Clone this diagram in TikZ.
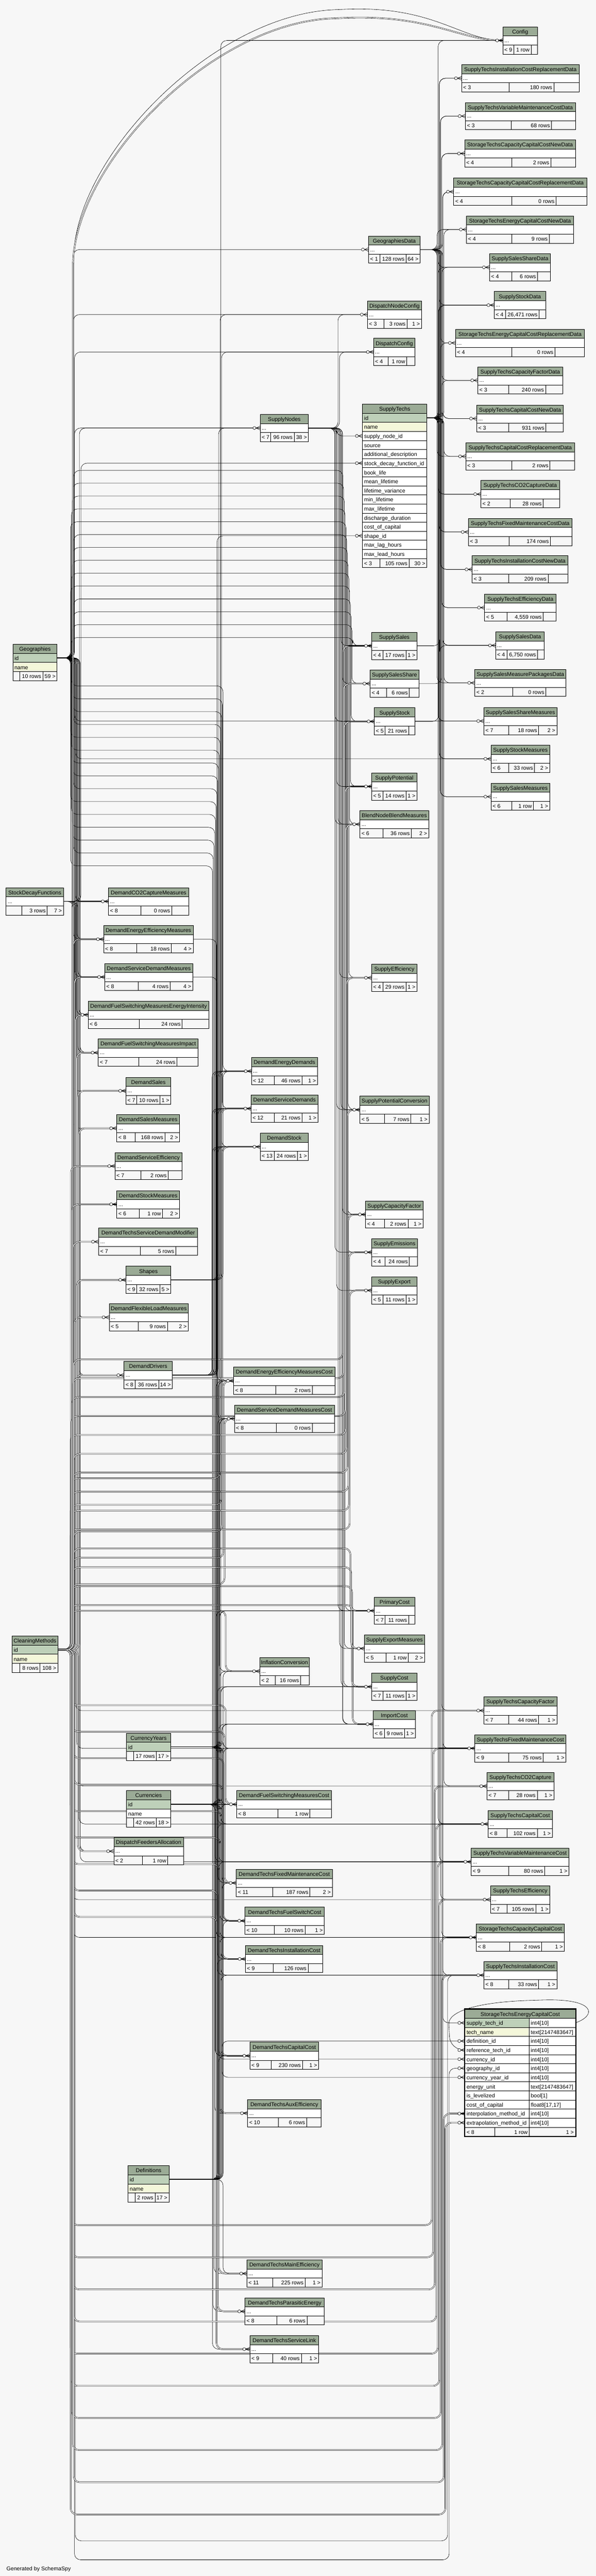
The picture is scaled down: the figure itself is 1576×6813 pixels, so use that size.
\documentclass[tikz,border=0pt]{standalone}
\usepackage{fontspec}
\setmainfont{Liberation Sans}
\usetikzlibrary{calc}
\definecolor{bgc}{HTML}{F7F7F7}
\definecolor{hdrc}{HTML}{9BAB96}
\definecolor{pkc}{HTML}{BED0B9}
\definecolor{namec}{HTML}{F4F7DA}
\pgfdeclarelayer{bgl}
\pgfdeclarelayer{edges}
\pgfsetlayers{bgl,edges,main}
\tikzset{
	tbl/.style={draw=black, line width=1pt},
	ttl/.style={inner sep=0pt, anchor=base},
	txt/.style={inner sep=0pt, anchor=base west},
	txr/.style={inner sep=0pt, anchor=base east},
	fk/.style={draw=black, line width=0.8pt, rounded corners=16pt},
	fkk/.style={fk, double=bgc, double distance=2pt},
	crow/.pic={
		\draw[line width=0.8pt, fill=bgc] (-15,0) circle[radius=4];
		\draw[line width=0.8pt] (-11,0) -- (0,-5) (-11,0) -- (0,0) (-11,0) -- (0,5);}
}

\begin{document}
\begin{tikzpicture}[x=1pt, y=-1pt, font=\fontsize{14.5}{17}\selectfont]
	\useasboundingbox (0,0) rectangle (1576,6813);
	\begin{pgfonlayer}{bgl}
		\fill[bgc] (0,0) rectangle (1576,6813);
	\end{pgfonlayer}

% TABLES (compact)
	\foreach \nm/\xa/\ya/\xb/\da/\db/\fa/\fb/\fc in {
		Config/1330/71/1422/1359/1405/{< 9}/{1 row}/{},
		SupplyTechsInstallationCostReplacementData/1221/171/1532/1347/1465/{< 3}/{180 rows}/{},
		SupplyTechsVariableMaintenanceCostData/1231/271/1522/1352/1459/{< 3}/{68 rows}/{},
		StorageTechsCapacityCapitalCostNewData/1229/370/1522/1354/1457/{< 4}/{2 rows}/{},
		StorageTechsCapacityCapitalCostReplacementData/1200/471/1552/1354/1471/{< 4}/{0 rows}/{},
		StorageTechsEnergyCapitalCostNewData/1234/571/1517/1354/1453/{< 4}/{9 rows}/{},
		GeographiesData/975/624/1111/1005/1074/{< 1}/{128 rows}/{64 >},
		SupplySalesShareData/1295/671/1456/1354/1422/{< 4}/{6 rows}/{},
		SupplyStockData/1307/771/1443/1337/1426/{< 4}/{26,471 rows}/{},
		DispatchNodeConfig/972/796/1115/1016/1077/{< 3}/{3 rows}/{1 >},
		StorageTechsEnergyCapitalCostReplacementData/1205/871/1546/1354/1468/{< 4}/{0 rows}/{},
		DispatchConfig/988/895/1098/1026/1076/{< 4}/{1 row}/{},
		SupplyTechsCapacityFactorData/1264/970/1488/1346/1443/{< 3}/{240 rows}/{},
		SupplyTechsCapitalCostNewData/1261/1071/1490/1346/1444/{< 3}/{931 rows}/{},
		SupplyNodes/688/1096/816/716/778/{< 7}/{96 rows}/{38 >},
		SupplyTechsCapitalCostReplacementData/1232/1171/1520/1354/1455/{< 3}/{2 rows}/{},
		SupplyTechsCO2CaptureData/1272/1271/1480/1350/1437/{< 2}/{28 rows}/{},
		SupplyTechsFixedMaintenanceCostData/1239/1371/1513/1347/1456/{< 3}/{174 rows}/{},
		SupplyTechsInstallationCostNewData/1249/1470/1502/1346/1450/{< 3}/{209 rows}/{},
		SupplyTechsEfficiencyData/1282/1571/1471/1341/1437/{< 5}/{4,559 rows}/{},
		SupplySales/983/1672/1103/1013/1074/{< 4}/{17 rows}/{1 >},
		SupplySalesData/1311/1671/1440/1341/1422/{< 4}/{6,750 rows}/{},
		SupplySalesMeasurePackagesData/1256/1770/1497/1356/1444/{< 2}/{0 rows}/{},
		SupplySalesShare/979/1772/1108/1023/1083/{< 4}/{6 rows}/{},
		SupplySalesShareMeasures/1280/1871/1473/1345/1425/{< 7}/{18 rows}/{2 >},
		SupplyStock/990/1872/1098/1019/1081/{< 5}/{21 rows}/{},
		SupplyStockMeasures/1299/1971/1454/1345/1414/{< 6}/{33 rows}/{2 >},
		SupplyPotential/983/2044/1103/1013/1074/{< 5}/{14 rows}/{1 >},
		SupplySalesMeasures/1299/2071/1454/1353/1411/{< 6}/{1 row}/{1 >},
		BlendNodeBlendMeasures/952/2144/1134/1013/1088/{< 6}/{36 rows}/{2 >},
		StockDecayFunctions/16/2348/168/58/125/{}/{3 rows}/{7 >},
		DemandCO2CaptureMeasures/287/2348/499/372/454/{< 8}/{0 rows}/{},
		DemandEnergyEfficiencyMeasures/274/2448/511/362/453/{< 8}/{18 rows}/{4 >},
		DemandServiceDemandMeasures/277/2548/510/366/450/{< 8}/{4 rows}/{4 >},
		SupplyEfficiency/983/2550/1103/1013/1074/{< 4}/{29 rows}/{1 >},
		DemandFuelSwitchingMeasuresEnergyIntensity/233/2648/553/368/482/{< 6}/{24 rows}/{},
		DemandFuelSwitchingMeasuresImpact/260/2748/524/367/468/{< 7}/{24 rows}/{},
		DemandEnergyDemands/665/2797/840/725/799/{< 12}/{46 rows}/{1 >},
		DemandSales/333/2849/452/362/423/{< 7}/{10 rows}/{1 >},
		DemandServiceDemands/664/2896/841/725/799/{< 12}/{21 rows}/{1 >},
		SupplyPotentialConversion/952/2899/1135/1017/1087/{< 5}/{7 rows}/{1 >},
		DemandSalesMeasures/309/2948/475/358/436/{< 8}/{168 rows}/{2 >},
		DemandStock/688/2997/816/725/787/{< 13}/{24 rows}/{1 >},
		DemandServiceEfficiency/304/3048/482/372/445/{< 7}/{2 rows}/{},
		DemandStockMeasures/309/3149/475/369/430/{< 6}/{1 row}/{2 >},
		SupplyCapacityFactor/967/3176/1119/1017/1079/{< 4}/{2 rows}/{1 >},
		DemandTechsServiceDemandModifier/261/3248/523/371/465/{< 7}/{5 rows}/{},
		SupplyEmissions/983/3276/1104/1019/1083/{< 4}/{24 rows}/{},
		Shapes/333/3349/452/362/423/{< 9}/{32 rows}/{5 >},
		SupplyExport/983/3377/1103/1013/1074/{< 5}/{11 rows}/{1 >},
		DemandFlexibleLoadMeasures/289/3448/498/365/443/{< 5}/{9 rows}/{2 >},
		DemandDrivers/328/3601/456/358/420/{< 8}/{36 rows}/{14 >},
		DemandEnergyEfficiencyMeasuresCost/618/3616/886/730/826/{< 8}/{2 rows}/{},
		DemandServiceDemandMeasuresCost/620/3716/885/731/826/{< 8}/{0 rows}/{},
		PrimaryCost/990/4224/1098/1019/1081/{< 7}/{11 rows}/{},
		SupplyExportMeasures/964/4324/1123/1021/1080/{< 5}/{1 row}/{2 >},
		InflationConversion/687/4384/818/728/795/{< 2}/{16 rows}/{},
		SupplyCost/983/4425/1103/1013/1074/{< 7}/{11 rows}/{1 >},
		SupplyTechsCapacityFactor/1280/4488/1473/1345/1425/{< 7}/{44 rows}/{1 >},
		ImportCost/987/4524/1099/1017/1070/{< 6}/{9 rows}/{1 >},
		SupplyTechsFixedMaintenanceCost/1256/4588/1497/1345/1437/{< 9}/{75 rows}/{1 >},
		SupplyTechsCO2Capture/1288/4688/1465/1345/1421/{< 7}/{28 rows}/{1 >},
		DemandFuelSwitchingMeasuresCost/626/4736/877/735/820/{< 8}/{1 row}/{},
		SupplyTechsCapitalCost/1291/4788/1461/1341/1421/{< 8}/{102 rows}/{1 >},
		DispatchFeedersAllocation/301/4860/485/376/444/{< 2}/{1 row}/{},
		SupplyTechsVariableMaintenanceCost/1246/4888/1505/1345/1441/{< 9}/{80 rows}/{1 >},
		DemandTechsFixedMaintenanceCost/625/4944/879/721/820/{< 11}/{187 rows}/{2 >},
		SupplyTechsEfficiency/1297/4988/1455/1341/1417/{< 7}/{105 rows}/{1 >},
		DemandTechsFuelSwitchCost/648/5044/858/725/807/{< 10}/{10 rows}/{1 >},
		StorageTechsCapacityCapitalCost/1260/5088/1493/1348/1433/{< 8}/{2 rows}/{1 >},
		DemandTechsInstallationCost/649/5145/854/722/815/{< 9}/{126 rows}/{},
		SupplyTechsInstallationCost/1280/5188/1473/1345/1425/{< 8}/{33 rows}/{1 >},
		DemandTechsCapitalCost/661/5401/843/717/800/{< 9}/{230 rows}/{1 >},
		DemandTechsAuxEfficiency/655/5553/849/736/811/{< 10}/{6 rows}/{},
		DemandTechsMainEfficiency/653/5977/852/721/807/{< 11}/{225 rows}/{1 >},
		DemandTechsParasiticEnergy/648/6077/858/732/812/{< 8}/{6 rows}/{},
		DemandTechsServiceLink/661/6177/843/721/797/{< 9}/{40 rows}/{1 >}}{
		\coordinate (\nm-in) at (\xa,\ya+36);
		\coordinate (\nm-out) at (\xb,\ya+36);
		\draw[tbl, fill=hdrc] (\xa,\ya) rectangle (\xb,\ya+24);
		\draw[tbl, fill=white] (\xa,\ya+24) rectangle (\xb,\ya+48);
		\draw[tbl, fill=bgc] (\xa,\ya+48) rectangle (\xb,\ya+72);
		\draw[tbl] (\da,\ya+48) -- (\da,\ya+72) (\db,\ya+48) -- (\db,\ya+72);
		\node[ttl] (\nm) at ({(\xa+\xb)/2},\ya+18) {\nm};
		\node[txt] (\nm-dots) at (\xa+4,\ya+41) {...};
		\node[txt] (\nm-fa) at (\xa+4,\ya+66) {\fa};
		\node[txr] (\nm-fb) at (\db-4,\ya+66) {\fb};
		\node[txr] (\nm-fc) at (\xb-4,\ya+66) {\fc};
		\ifx\fa\empty\else \pic at (\nm-in) {crow};\fi
	}

% TABLES (lookup)
	\foreach \nm/\xa/\ya/\xb/\da/\db/\fb/\fc/\nc in {
		Geographies/34/1704/151/52/113/{10 rows}/{59 >}/namec,
		CleaningMethods/32/4327/153/52/106/{8 rows}/{108 >}/namec,
		Currencies/335/4736/451/353/414/{42 rows}/{18 >}/white,
		Definitions/339/5728/447/357/410/{2 rows}/{17 >}/namec}{
		\coordinate (\nm-out) at (\xb,\ya+36);
		\draw[tbl, fill=hdrc] (\xa,\ya) rectangle (\xb,\ya+24);
		\draw[tbl, fill=pkc] (\xa,\ya+24) rectangle (\xb,\ya+48);
		\draw[tbl, fill=\nc] (\xa,\ya+48) rectangle (\xb,\ya+72);
		\draw[tbl, fill=bgc] (\xa,\ya+72) rectangle (\xb,\ya+96);
		\draw[tbl] (\da,\ya+72) -- (\da,\ya+96) (\db,\ya+72) -- (\db,\ya+96);
		\node[ttl] (\nm) at ({(\xa+\xb)/2},\ya+18) {\nm};
		\node[txt] (\nm-id) at (\xa+4,\ya+42) {id};
		\node[txt] (\nm-name) at (\xa+4,\ya+66) {name};
		\node[txr] (\nm-fb) at (\db-4,\ya+90) {\fb};
		\node[txr] (\nm-fc) at (\xb-4,\ya+90) {\fc};
	}

	% currency years
	\coordinate (CurrencyYears-out) at (451,4620);
	\draw[tbl, fill=hdrc] (335,4584) rectangle (451,4608);
	\draw[tbl, fill=pkc] (335,4608) rectangle (451,4632);
	\draw[tbl, fill=bgc] (335,4632) rectangle (451,4656);
	\draw[tbl] (353,4632) -- (353,4656) (414,4632) -- (414,4656);
	\node[ttl] (CurrencyYears) at (393,4602) {CurrencyYears};
	\node[txt] (CurrencyYears-id) at (339,4626) {id};
	\node[txr] (CurrencyYears-fb) at (410,4650) {17 rows};
	\node[txr] (CurrencyYears-fc) at (447,4650) {17 >};

% SUPPLY TECHS
	\draw[tbl, fill=hdrc] (959,1069) rectangle (1129,1093);
	\node[ttl] (SupplyTechs) at (1044,1087) {SupplyTechs};
	\draw[tbl, fill=pkc] (959,1093) rectangle (1129,1117);
	\node[txt] (sut-id) at (963,1111) {id};
	\draw[tbl, fill=namec] (959,1117) rectangle (1129,1141);
	\node[txt] (sut-name) at (963,1135) {name};
	\foreach \col [count=\r from 3] in {supply\_node\_id, source, additional\_description,
		stock\_decay\_function\_id, book\_life, mean\_lifetime, lifetime\_variance, min\_lifetime,
		max\_lifetime, discharge\_duration, cost\_of\_capital, shape\_id, max\_lag\_hours, max\_lead\_hours}{
		\draw[tbl, fill=white] (959,1069+24*\r) rectangle (1129,1093+24*\r);
		\node[txt] (sut-\r) at (963,1087+24*\r) {\col};
	}
	\draw[tbl, fill=bgc] (959,1477) rectangle (1129,1501);
	\draw[tbl] (1005,1477) -- (1005,1501) (1082,1477) -- (1082,1501);
	\node[txt] (sut-fa) at (963,1495) {< 3};
	\node[txr] (sut-fb) at (1078,1495) {105 rows};
	\node[txr] (sut-fc) at (1125,1495) {30 >};
	\coordinate (SupplyTechs-out) at (1129,1105);
	\coordinate (sut-node) at (959,1153);
	\coordinate (sut-decay) at (959,1225);
	\coordinate (sut-shape) at (959,1417);
	\foreach \c in {sut-node, sut-decay, sut-shape} \pic at (\c) {crow};

% STORAGE TECHS ENERGY CAPITAL COST
	\draw[tbl, fill=hdrc] (1230,5314) rectangle (1522,5338);
	\node[ttl] (StorageTechsEnergyCapitalCost) at (1376,5332) {StorageTechsEnergyCapitalCost};
	\foreach \col/\typ/\cf [count=\r] in {supply\_tech\_id/{int4[10]}/pkc, tech\_name/{text[2147483647]}/namec,
		definition\_id/{int4[10]}/white, reference\_tech\_id/{int4[10]}/white, currency\_id/{int4[10]}/white,
		geography\_id/{int4[10]}/white, currency\_year\_id/{int4[10]}/white, energy\_unit/{text[2147483647]}/white,
		is\_levelized/{bool[1]}/white, cost\_of\_capital/{float8[17,17]}/white,
		interpolation\_method\_id/{int4[10]}/white, extrapolation\_method\_id/{int4[10]}/white}{
		\draw[tbl, fill=\cf] (1230,5314+24*\r) rectangle (1400,5338+24*\r);
		\draw[tbl, fill=white] (1400,5314+24*\r) rectangle (1522,5338+24*\r);
		\node[txt] (stecc-c\r) at (1234,5332+24*\r) {\col};
		\node[txt] (stecc-t\r) at (1404,5332+24*\r) {\typ};
	}
	\draw[tbl, fill=bgc] (1230,5626) rectangle (1522,5650);
	\draw[tbl] (1308,5626) -- (1308,5650) (1400,5626) -- (1400,5650);
	\node[txt] (stecc-fa) at (1234,5644) {< 8};
	\node[txr] (stecc-fb) at (1396,5644) {1 row};
	\node[txr] (stecc-fc) at (1518,5644) {1 >};
	\draw[line width=3pt] (1229,5313) rectangle (1523,5651);
	\coordinate (stecc-out) at (1522,5350);
	\foreach \nm/\r in {sup/1, def/3, ref/4, cur/5, geo/6, cy/7, int/11, ext/12}{
		\coordinate (stecc-\nm) at (1230,5326+24*\r);
		\pic at (stecc-\nm) {crow};
	}

	\node[txt] (gen) at (17,6798) {Generated by SchemaSpy};

% RELATIONSHIPS
	\begin{pgfonlayer}{edges}
	% geographies
	\foreach \c [count=\i] in {GeographiesData, SupplyNodes, DemandCO2CaptureMeasures,
		DemandEnergyEfficiencyMeasures, DemandServiceDemandMeasures, DemandFuelSwitchingMeasuresEnergyIntensity,
		DemandFuelSwitchingMeasuresImpact, DemandSales, DemandSalesMeasures, DemandServiceEfficiency,
		DemandStockMeasures, DemandTechsServiceDemandModifier, DemandFlexibleLoadMeasures, DemandDrivers,
		DispatchFeedersAllocation, Shapes, DispatchNodeConfig, DispatchConfig,
		SupplyTechsCapacityFactor, SupplyTechsFixedMaintenanceCost, SupplyTechsCO2Capture, SupplyTechsCapitalCost,
		SupplyTechsVariableMaintenanceCost, SupplyTechsEfficiency, StorageTechsCapacityCapitalCost,
		SupplySalesShareMeasures, SupplyStockMeasures}
		\draw[fk] (Geographies-out) -- ++({40+3*mod(\i,8)},0) |- (\c-in);
	\foreach \c [count=\i] in {DemandEnergyDemands, DemandServiceDemands, DemandStock,
		DemandEnergyEfficiencyMeasuresCost, DemandServiceDemandMeasuresCost, InflationConversion,
		DemandFuelSwitchingMeasuresCost, DemandTechsFixedMaintenanceCost, DemandTechsFuelSwitchCost,
		DemandTechsInstallationCost, DemandTechsCapitalCost, DemandTechsAuxEfficiency, DemandTechsMainEfficiency,
		DemandTechsParasiticEnergy, DemandTechsServiceLink}
		\draw[fk] (Geographies-out) -- ++({36+2*mod(\i,5)},0) |- ({592-2*\i},{1780+34*\i}) |- (\c-in);
	\foreach \c [count=\i] in {SupplySales, SupplySalesShare, SupplyStock, SupplyPotential,
		BlendNodeBlendMeasures, SupplyEfficiency, SupplyPotentialConversion, SupplyCapacityFactor, SupplyEmissions,
		SupplyExport, PrimaryCost, SupplyExportMeasures, SupplyCost, ImportCost}
		\draw[fk] (Geographies-out) -- ++({36+2*mod(\i,5)},0) |- ({935-2*\i},{1720-34*\i}) |- (\c-in);
	\draw[fk] (Geographies-out) -- ++(48,0) |- (1184,6720) |- (SupplyTechsInstallationCost-in);
	\draw[fk] (Geographies-out) -- ++(46,0) |- (1188,6770) |- (stecc-geo);
	\draw[fk] (Geographies-out) -- ++(44,0) -- (195,700) .. controls (195,420) and (560,40) .. (900,25)
		.. controls (1150,15) and (1220,107) .. (Config-in);

	% cleaning methods (interpolation / extrapolation)
	\foreach \c [count=\i] in {DemandCO2CaptureMeasures, DemandEnergyEfficiencyMeasures,
		DemandServiceDemandMeasures, DemandFuelSwitchingMeasuresEnergyIntensity, DemandFuelSwitchingMeasuresImpact,
		DemandSales, DemandSalesMeasures, DemandServiceEfficiency, DemandStockMeasures,
		DemandTechsServiceDemandModifier, DemandFlexibleLoadMeasures, DemandDrivers, Shapes, DispatchFeedersAllocation}
		\draw[fkk] (CleaningMethods-out) -- ++({35+3*mod(\i,8)},0) |- (\c-in);
	\foreach \c [count=\i] in {InflationConversion, DemandServiceDemandMeasuresCost,
		DemandEnergyEfficiencyMeasuresCost, DemandStock, DemandServiceDemands, DemandEnergyDemands}
		\draw[fkk] (CleaningMethods-out) -- ++({34+2*mod(\i,5)},0) |- ({600-3*\i},{4330-70*\i}) |- (\c-in);
	\foreach \c [count=\i] in {DemandFuelSwitchingMeasuresCost, DemandTechsFixedMaintenanceCost,
		DemandTechsFuelSwitchCost, DemandTechsInstallationCost, DemandTechsCapitalCost, DemandTechsAuxEfficiency,
		DemandTechsMainEfficiency, DemandTechsParasiticEnergy, DemandTechsServiceLink}
		\draw[fkk] (CleaningMethods-out) -- ++({34+2*mod(\i,5)},0) |- ({600-3*\i},{4440+70*\i}) |- (\c-in);
	\foreach \c [count=\i] in {ImportCost, SupplyCost, SupplyExportMeasures, PrimaryCost, SupplyExport,
		SupplyEmissions, SupplyCapacityFactor, SupplyPotentialConversion, SupplyEfficiency, BlendNodeBlendMeasures,
		SupplyPotential, SupplyStock, SupplySalesShare, SupplySales}
		\draw[fkk] (CleaningMethods-out) -- ++({34+2*mod(\i,5)},0) |- ({935-2*\i},{4295-50*\i}) |- (\c-in);
	\foreach \c [count=\i] in {SupplyTechsCapacityFactor-in, SupplyTechsFixedMaintenanceCost-in,
		SupplyTechsCO2Capture-in, SupplyTechsCapitalCost-in, SupplyTechsVariableMaintenanceCost-in,
		SupplyTechsEfficiency-in, StorageTechsCapacityCapitalCost-in, SupplyTechsInstallationCost-in,
		stecc-int, stecc-ext}
		\draw[fkk] (CleaningMethods-out) -- ++({34+2*mod(\i,5)},0) |- ({1138+4*\i},{5800+85*\i}) |- (\c);
	\draw[fkk] (CleaningMethods-out) -- ++(40,0) -- (193,720) .. controls (193,440) and (555,62) .. (895,48)
		.. controls (1140,38) and (1215,107) .. (Config-in);

	% stock decay functions
	\draw[fk] (StockDecayFunctions-out) -- (DemandCO2CaptureMeasures-in);
	\foreach \c [count=\i] in {DemandEnergyEfficiencyMeasures-in, DemandServiceDemandMeasures-in,
		DemandFuelSwitchingMeasuresEnergyIntensity-in, DemandFuelSwitchingMeasuresImpact-in, SupplyNodes-in, sut-decay}
		\draw[fk] (StockDecayFunctions-out) -- ++({22+4*\i},0) |- (\c);

	% supply nodes
	\foreach \c [count=\i] in {sut-node, DispatchNodeConfig-in, DispatchConfig-in, SupplySales-in,
		SupplySalesShare-in, SupplyStock-in, SupplyPotential-in, BlendNodeBlendMeasures-in, SupplyEfficiency-in,
		SupplyPotentialConversion-in, SupplyCapacityFactor-in, SupplyEmissions-in, SupplyExport-in, PrimaryCost-in,
		SupplyExportMeasures-in, SupplyCost-in, ImportCost-in, BlendNodeBlendMeasures-in, SupplyPotentialConversion-in}
		\draw[fk] (SupplyNodes-out) -- ++({70+4*mod(\i,6)},0) |- (\c);

	% shapes
	\foreach \c [count=\i] in {sut-shape, SupplyNodes-in, DispatchNodeConfig-in, DispatchConfig-in, DemandEnergyDemands-in}
		\draw[fk] (Shapes-out) -- ++({118+4*\i},0) |- (\c);

	% geographies data
	\foreach \c [count=\i] in {Config, SupplyTechsInstallationCostReplacementData, SupplyTechsVariableMaintenanceCostData,
		StorageTechsCapacityCapitalCostNewData, StorageTechsCapacityCapitalCostReplacementData,
		StorageTechsEnergyCapitalCostNewData, SupplySalesShareData, SupplyStockData,
		StorageTechsEnergyCapitalCostReplacementData, SupplyTechsCapacityFactorData, SupplyTechsCapitalCostNewData,
		SupplyTechsCapitalCostReplacementData, SupplyTechsCO2CaptureData, SupplyTechsFixedMaintenanceCostData,
		SupplyTechsInstallationCostNewData, SupplyTechsEfficiencyData, SupplySalesData, SupplySalesMeasurePackagesData,
		SupplySalesShareMeasures, SupplyStockMeasures, SupplySalesMeasures}
		\draw[fk] (GeographiesData-out) -- ++({45+3*mod(\i,6)},0) |- (\c-in);

	% supply techs
	\foreach \c [count=\i] in {SupplyTechsInstallationCostReplacementData, SupplyTechsVariableMaintenanceCostData,
		StorageTechsCapacityCapitalCostNewData, StorageTechsCapacityCapitalCostReplacementData,
		StorageTechsEnergyCapitalCostNewData, SupplySalesShareData, SupplyStockData,
		StorageTechsEnergyCapitalCostReplacementData, SupplyTechsCapacityFactorData, SupplyTechsCapitalCostNewData,
		SupplyTechsCapitalCostReplacementData, SupplyTechsCO2CaptureData, SupplyTechsFixedMaintenanceCostData,
		SupplyTechsInstallationCostNewData, SupplyTechsEfficiencyData, SupplySalesData, SupplySalesMeasurePackagesData,
		SupplySalesShareMeasures, SupplyStockMeasures, SupplySalesMeasures, SupplyTechsCapacityFactor,
		SupplyTechsFixedMaintenanceCost, SupplyTechsCO2Capture, SupplyTechsCapitalCost,
		SupplyTechsVariableMaintenanceCost, SupplyTechsEfficiency, StorageTechsCapacityCapitalCost,
		SupplyTechsInstallationCost}
		\draw[fk] (SupplyTechs-out) -- ++({30+3*mod(\i,6)},0) |- (\c-in);
	\draw[fk] (SupplyTechs-out) -- ++(42,0) |- (stecc-sup);

	% currencies, currency years, definitions
	\draw[fk] (Currencies-out) -- (DemandFuelSwitchingMeasuresCost-in);
	\foreach \c [count=\i] in {DemandEnergyEfficiencyMeasuresCost-in, DemandServiceDemandMeasuresCost-in,
		DemandTechsFixedMaintenanceCost-in, DemandTechsFuelSwitchCost-in, DemandTechsInstallationCost-in,
		DemandTechsCapitalCost-in, PrimaryCost-in, SupplyCost-in, ImportCost-in, SupplyTechsFixedMaintenanceCost-in,
		SupplyTechsCapitalCost-in, SupplyTechsVariableMaintenanceCost-in, StorageTechsCapacityCapitalCost-in,
		SupplyTechsInstallationCost-in, stecc-cur, InflationConversion-in, Config-in}
		\draw[fk] (Currencies-out) -- ++({118+3*mod(\i,6)},0) |- (\c);
	\foreach \c [count=\i] in {DemandEnergyEfficiencyMeasuresCost-in, DemandServiceDemandMeasuresCost-in,
		DemandFuelSwitchingMeasuresCost-in, DemandTechsFixedMaintenanceCost-in, DemandTechsFuelSwitchCost-in,
		DemandTechsInstallationCost-in, DemandTechsCapitalCost-in, PrimaryCost-in, SupplyCost-in, ImportCost-in,
		SupplyTechsFixedMaintenanceCost-in, SupplyTechsCapitalCost-in, SupplyTechsVariableMaintenanceCost-in,
		StorageTechsCapacityCapitalCost-in, SupplyTechsInstallationCost-in, stecc-cy, InflationConversion-in}
		\draw[fk] (CurrencyYears-out) -- ++({124+3*mod(\i,6)},0) |- (\c);
	\foreach \c [count=\i] in {DemandEnergyEfficiencyMeasuresCost-in, DemandServiceDemandMeasuresCost-in,
		DemandFuelSwitchingMeasuresCost-in, DemandTechsFixedMaintenanceCost-in, DemandTechsFuelSwitchCost-in,
		DemandTechsInstallationCost-in, DemandTechsCapitalCost-in, PrimaryCost-in, SupplyCost-in, ImportCost-in,
		SupplyTechsFixedMaintenanceCost-in, SupplyTechsCapitalCost-in, SupplyTechsVariableMaintenanceCost-in,
		StorageTechsCapacityCapitalCost-in, SupplyTechsInstallationCost-in, stecc-def, DemandTechsMainEfficiency-in}
		\draw[fk] (Definitions-out) -- ++({128+3*mod(\i,6)},0) |- (\c);

	% demand drivers
	\foreach \c in {DemandEnergyDemands, DemandServiceDemands, DemandStock}
		\foreach \k in {0,...,3}
			\draw[fk] (DemandDrivers-out) -- ++({105+5*\k},0) |- (\c-in);

	% one to one
	\draw[fk] (SupplySales-out) -- ++(60,0) |- (SupplySalesData-in);
	\draw[fk] (SupplySalesShare-out) -- ++(60,0) |- (SupplySalesShareData-in);
	\draw[fk] (SupplyStock-out) -- ++(62,0) |- (SupplyStockData-in);
	\draw[fk] (DemandEnergyEfficiencyMeasures-out) -- ++(62,0) |- (DemandEnergyEfficiencyMeasuresCost-in);
	\draw[fk] (DemandServiceDemandMeasures-out) -- ++(64,0) |- (DemandServiceDemandMeasuresCost-in);

	% self reference
	\draw[fk] (stecc-out) .. controls (1580,5330) and (1575,5285) .. (1420,5290)
		.. controls (1260,5295) and (1185,5320) .. (1188,5370)
		.. controls (1190,5405) and (1205,5422) .. (stecc-ref);
	\end{pgfonlayer}
\end{tikzpicture}
\end{document}
